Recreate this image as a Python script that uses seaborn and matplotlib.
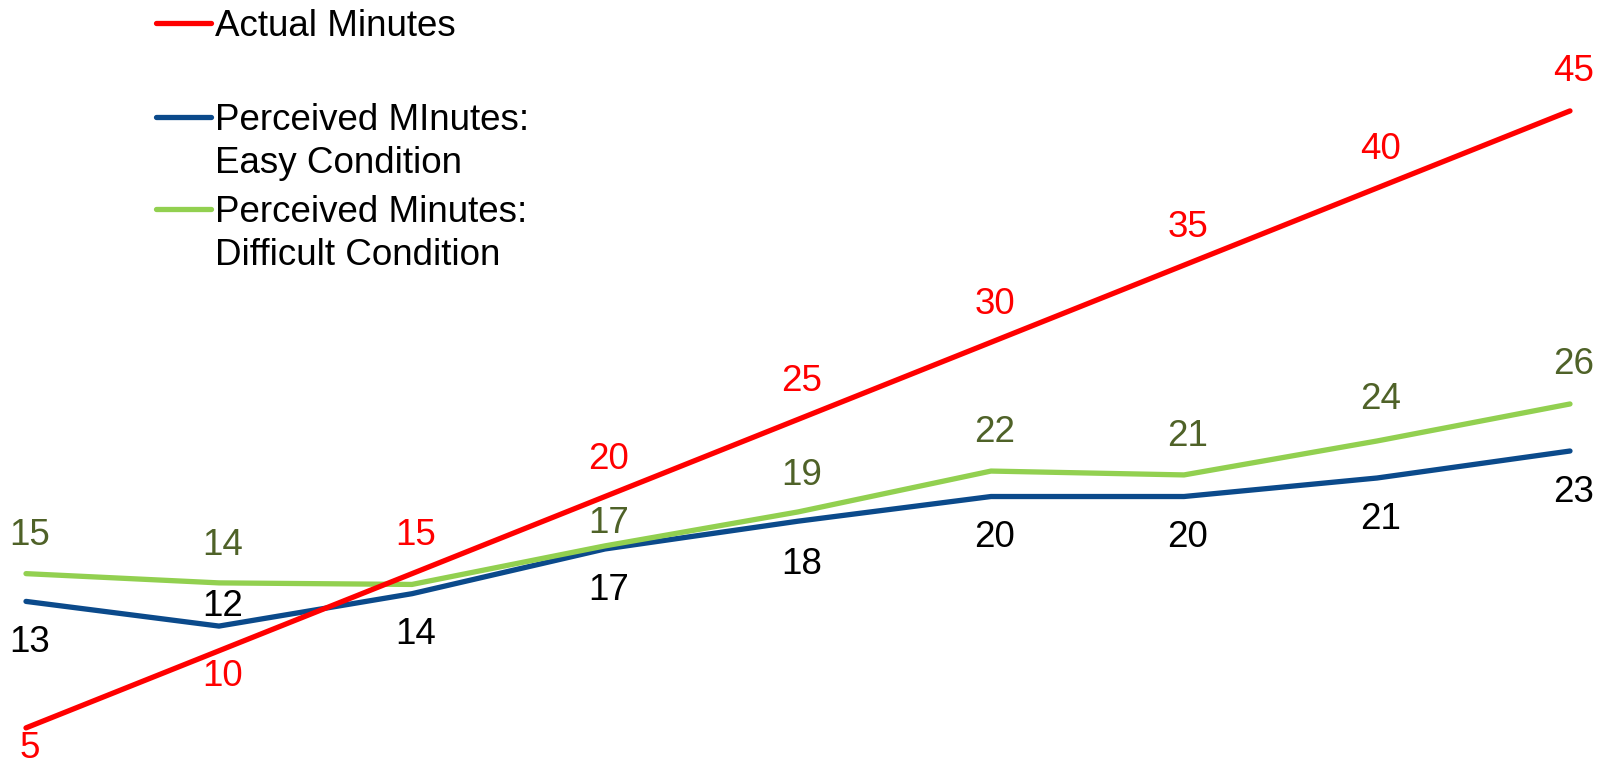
import matplotlib
matplotlib.use("Agg")
import matplotlib.pyplot as plt
import seaborn as sns
import pandas as pd
from matplotlib.lines import Line2D

# ---- data ----
intervals = [0, 1, 2, 3, 4, 5, 6, 7, 8]
actual_minutes = [5, 10, 15, 20, 25, 30, 35, 40, 45]
perceived_easy = [13.2, 11.6, 13.7, 16.6, 18.4, 20.0, 20.0, 21.2, 22.95]
perceived_difficult = [15.0, 14.4, 14.3, 16.8, 19.0, 21.65, 21.4, 23.6, 26.0]
series_names = ["Actual Minutes",
                "Perceived MInutes:\nEasy Condition",
                "Perceived Minutes:\nDifficult Condition"]

# ---- styling ----
line_colors = {series_names[0]: "#FF0000",
               series_names[1]: "#0B4A8B",
               series_names[2]: "#92D050"}
label_colors = {series_names[0]: "#FF0000",
                series_names[1]: "#000000",
                series_names[2]: "#4F6228"}
# label vertical offsets in pixels (negative = above the point)
label_dy = {series_names[0]: [21, 26, -38, -37, -38, -38, -38, -39, -39],
            series_names[1]: [41, -20, 41, 42, 43, 41, 41, 41, 41],
            series_names[2]: [-38, -37, None, -22, -36, -39, -38, -41, -39]}

df = pd.concat([
    pd.DataFrame({"interval": intervals, "minutes": vals, "series": name})
    for name, vals in zip(series_names, [actual_minutes, perceived_easy, perceived_difficult])
], ignore_index=True)

sns.set_theme(style="white")
plt.rcParams["font.family"] = ["Liberation Sans", "DejaVu Sans"]

W, H, DPI = 1609, 767, 100
fig = plt.figure(figsize=(W / DPI, H / DPI), dpi=DPI)
ax = fig.add_axes([0, 0, 1, 1])

hue_order = [series_names[1], series_names[2], series_names[0]]
sns.lineplot(data=df, x="interval", y="minutes", hue="series", hue_order=hue_order,
             palette=line_colors, linewidth=3.8, legend=False, ax=ax,
             solid_capstyle="round", solid_joinstyle="round", sort=False)

ax.set_xlim(-0.1347, 8.2021)
ax.set_ylim(2.464, 52.19)
ax.axis("off")

FS = 26.5
px2pt = 72 / DPI
for name, vals in zip(series_names, [actual_minutes, perceived_easy, perceived_difficult]):
    for x, v, dy in zip(intervals, vals, label_dy[name]):
        if dy is None:
            continue
        ax.annotate(f"{v:.0f}", xy=(x, v), xytext=(4 * px2pt, -dy * px2pt),
                    textcoords="offset points", ha="center", va="center",
                    fontsize=FS, color=label_colors[name])

# ---- legend (top-left) ----
leg_items = [(series_names[0], 23), (series_names[1], 117), (series_names[2], 209)]
for name, ypx in leg_items:
    yf = 1 - ypx / H
    fig.add_artist(Line2D([156 / W, 211 / W], [yf, yf], color=line_colors[name],
                          linewidth=3.8, solid_capstyle="round", transform=fig.transFigure))
    fig.text(215 / W, 1 - (ypx - 14) / H, name, ha="left", va="top",
             fontsize=FS, color="black", linespacing=1.30, transform=fig.transFigure)

fig.savefig("out.png", dpi=DPI, facecolor="white")
